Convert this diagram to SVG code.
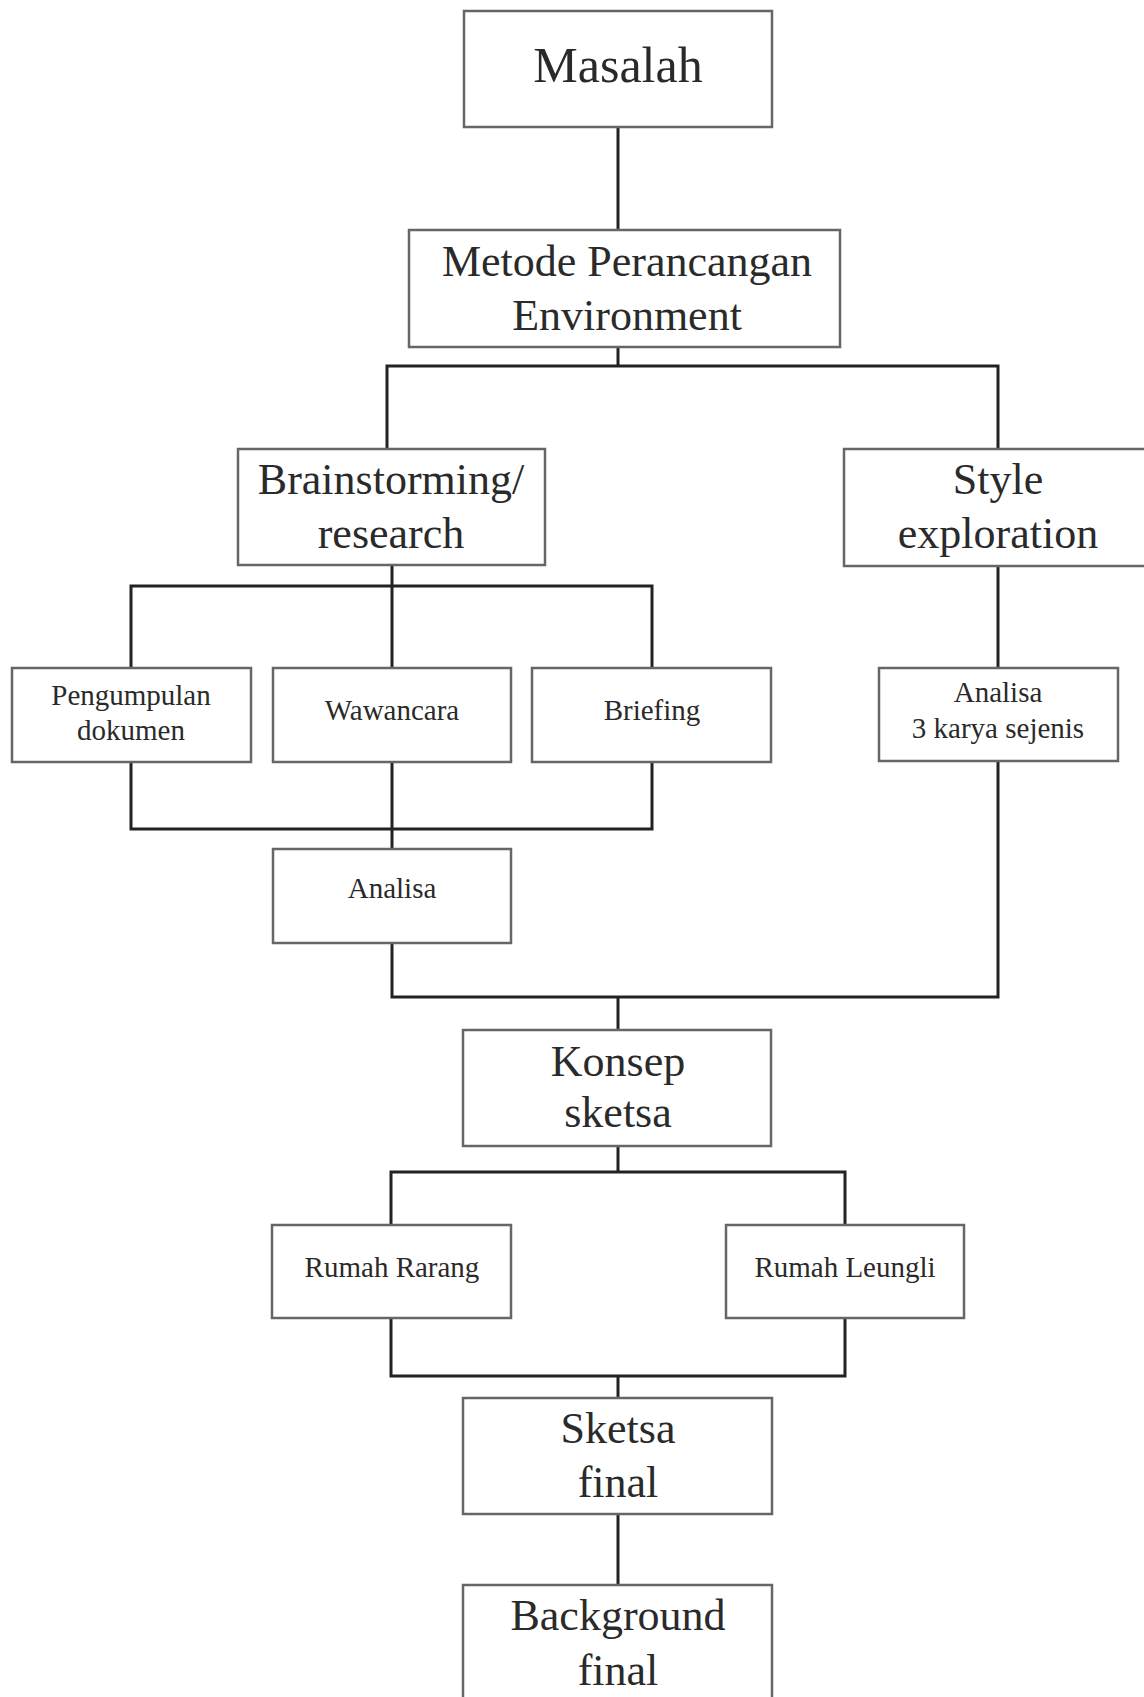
<svg xmlns="http://www.w3.org/2000/svg" width="1144" height="1697" viewBox="0 0 1144 1697">
<style>
.box{fill:#fff;stroke:#666;stroke-width:2.5}
.ln{fill:none;stroke:#222;stroke-width:3;stroke-linejoin:miter}
.big{font-family:"Liberation Serif","Times New Roman",serif;font-size:44px;fill:#2a2a2a;text-anchor:middle}
.sm{font-family:"Liberation Serif","Times New Roman",serif;font-size:29px;fill:#2a2a2a;text-anchor:middle}
</style>
<rect width="1144" height="1697" fill="#fff"/>
<g id="connectors">
<path class="ln" d="M618 127V230"/>
<path class="ln" d="M618 347V366M387 449V366H998V449"/>
<path class="ln" d="M392 565V586M131 668V586H652V668M392 586V668"/>
<path class="ln" d="M131 762V829H652V762M392 762V849"/>
<path class="ln" d="M998 566V668"/>
<path class="ln" d="M392 943V997H998V761"/>
<path class="ln" d="M618 997V1030"/>
<path class="ln" d="M618 1146V1172M391 1225V1172H845V1225"/>
<path class="ln" d="M391 1318V1376H845V1318M618 1376V1398"/>
<path class="ln" d="M618 1514V1585"/>
</g>
<g id="masalah"><rect class="box" x="464" y="11" width="308" height="116"/><text class="big" x="618" y="82" style="font-size:50px">Masalah</text></g>
<g id="metode"><rect class="box" x="409" y="230" width="431" height="117"/><text class="big" x="627" y="276">Metode Perancangan</text><text class="big" x="627" y="330">Environment</text></g>
<g id="brainstorming"><rect class="box" x="238" y="449" width="307" height="116"/><text class="big" x="391" y="494">Brainstorming/</text><text class="big" x="391" y="548">research</text></g>
<g id="style"><rect class="box" x="844" y="449" width="310" height="117"/><text class="big" x="998" y="494">Style</text><text class="big" x="998" y="548">exploration</text></g>
<g id="pengumpulan"><rect class="box" x="12" y="668" width="239" height="94"/><text class="sm" x="131" y="705">Pengumpulan</text><text class="sm" x="131" y="740">dokumen</text></g>
<g id="wawancara"><rect class="box" x="273" y="668" width="238" height="94"/><text class="sm" x="392" y="720">Wawancara</text></g>
<g id="briefing"><rect class="box" x="532" y="668" width="239" height="94"/><text class="sm" x="652" y="720">Briefing</text></g>
<g id="analisa3"><rect class="box" x="879" y="668" width="239" height="93"/><text class="sm" x="998" y="702">Analisa</text><text class="sm" x="998" y="738">3 karya sejenis</text></g>
<g id="analisa"><rect class="box" x="273" y="849" width="238" height="94"/><text class="sm" x="392" y="898">Analisa</text></g>
<g id="konsep"><rect class="box" x="463" y="1030" width="308" height="116"/><text class="big" x="618" y="1076">Konsep</text><text class="big" x="618" y="1127">sketsa</text></g>
<g id="rarang"><rect class="box" x="272" y="1225" width="239" height="93"/><text class="sm" x="392" y="1277">Rumah Rarang</text></g>
<g id="leungli"><rect class="box" x="726" y="1225" width="238" height="93"/><text class="sm" x="845" y="1277">Rumah Leungli</text></g>
<g id="sketsafinal"><rect class="box" x="463" y="1398" width="309" height="116"/><text class="big" x="618" y="1443">Sketsa</text><text class="big" x="618" y="1497">final</text></g>
<g id="background"><rect class="box" x="463" y="1585" width="309" height="130"/><text class="big" x="618" y="1630">Background</text><text class="big" x="618" y="1685">final</text></g>
</svg>
